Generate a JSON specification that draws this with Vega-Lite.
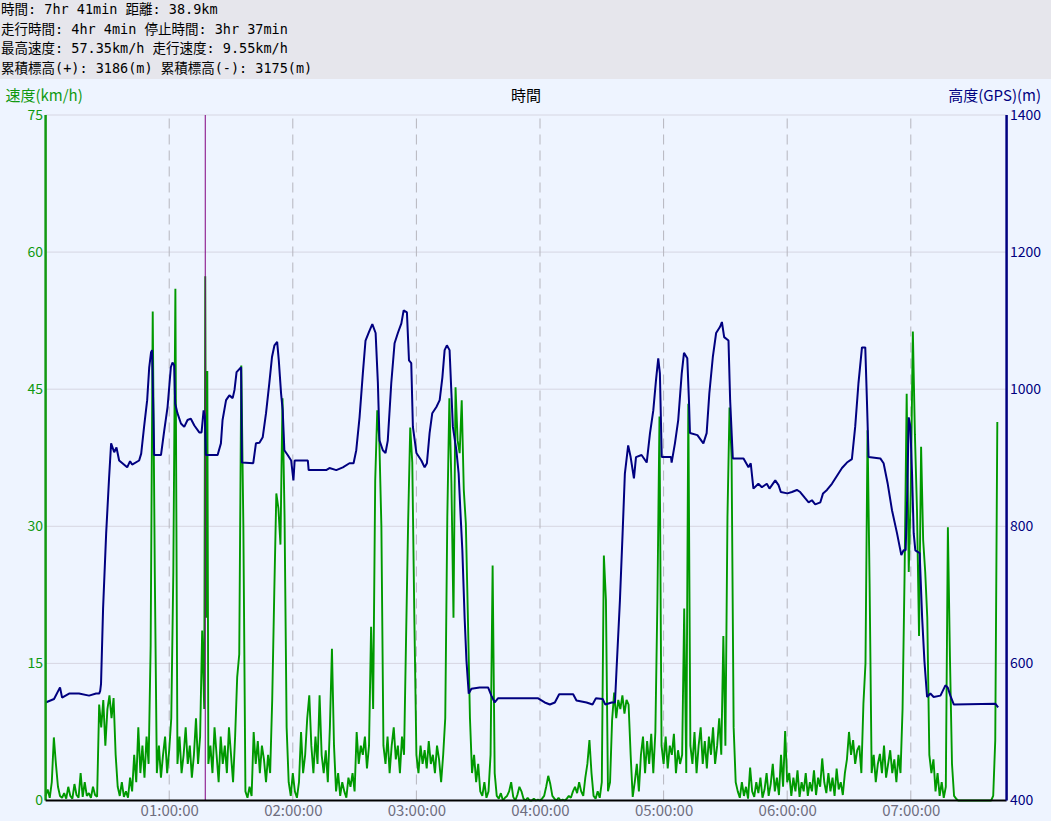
{
"$schema": "https://vega.github.io/schema/vega-lite/v6.json",
"background": "#eef4ff",
"padding": 0,
"spacing": 0,
"config": {"view": {"stroke": null}, "font": "Noto Sans CJK JP"},
"datasets": {
"header": [
{"line": 1, "text": "時間: 7hr 41min 距離: 38.9km"},
{"line": 2, "text": "走行時間: 4hr 4min 停止時間: 3hr 37min"},
{"line": 3, "text": "最高速度: 57.35km/h 走行速度: 9.55km/h"},
{"line": 4, "text": "累積標高(+): 3186(m) 累積標高(-): 3175(m)"}
],
"hgrid": [{"g": 15}, {"g": 30}, {"g": 45}, {"g": 60}, {"g": 75}],
"vgrid": [{"h": 60}, {"h": 120}, {"h": 180}, {"h": 240}, {"h": 300}, {"h": 360}, {"h": 420}],
"speed": [
{"t":0,"s":0.5},{"t":1,"s":1.2},{"t":2,"s":0.3},{"t":3,"s":2},{"t":4,"s":6.9},{"t":5,"s":4},{"t":6,"s":1.5},{"t":7,"s":0.5},{"t":8,"s":0.3},{"t":9,"s":0.8},
{"t":10,"s":0.2},{"t":11,"s":1.5},{"t":12,"s":0.5},{"t":13,"s":0.2},{"t":14,"s":1.8},{"t":15,"s":0.6},{"t":16,"s":0.3},{"t":17,"s":3},{"t":18,"s":0.4},{"t":19,"s":2},
{"t":20,"s":0.5},{"t":21,"s":0.8},{"t":22,"s":0.3},{"t":23,"s":1.5},{"t":24,"s":0.6},{"t":25,"s":0.4},{"t":26,"s":10.5},{"t":27,"s":8},{"t":28,"s":11},{"t":29,"s":6},
{"t":30,"s":10},{"t":31,"s":11.5},{"t":32,"s":9},{"t":33,"s":11.2},{"t":34,"s":5},{"t":35,"s":1.5},{"t":36,"s":0.5},{"t":37,"s":2},{"t":38,"s":0.4},{"t":39,"s":1},
{"t":40,"s":0.3},{"t":41,"s":2.5},{"t":42,"s":1},{"t":43,"s":5},{"t":44,"s":2},{"t":45,"s":8},{"t":46,"s":3},{"t":47,"s":6},{"t":48,"s":2.5},{"t":49,"s":7},
{"t":50,"s":4},{"t":51,"s":17},{"t":52,"s":53.5},{"t":53,"s":25},{"t":54,"s":3},{"t":55,"s":6},{"t":56,"s":2.5},{"t":57,"s":5},{"t":58,"s":7},{"t":59,"s":3},
{"t":60,"s":5.5},{"t":61,"s":9},{"t":62,"s":25},{"t":63,"s":56},{"t":64,"s":4},{"t":65,"s":7},{"t":66,"s":3},{"t":67,"s":5},{"t":68,"s":8},{"t":69,"s":4},
{"t":70,"s":6},{"t":71,"s":2.5},{"t":72,"s":5},{"t":73,"s":9},{"t":74,"s":4},{"t":75,"s":7},{"t":76,"s":18.6},{"t":77,"s":10},{"t":77.5,"s":57.35},{"t":78,"s":20},{"t":78.5,"s":47},{"t":79,"s":4},
{"t":80,"s":6},{"t":81,"s":3},{"t":82,"s":8},{"t":83,"s":5},{"t":84,"s":2},{"t":85,"s":7},{"t":86,"s":4},{"t":87,"s":6},{"t":88,"s":3},{"t":89,"s":8},
{"t":90,"s":5},{"t":91,"s":2},{"t":92,"s":7},{"t":93,"s":13.5},{"t":94,"s":16},{"t":95,"s":47.6},{"t":96,"s":30},{"t":97,"s":1},{"t":98,"s":0.3},{"t":99,"s":1.5},
{"t":100,"s":0.5},{"t":101,"s":7.5},{"t":102,"s":4},{"t":103,"s":6.5},{"t":104,"s":3},{"t":105,"s":6},{"t":106,"s":4.5},{"t":107,"s":2},{"t":108,"s":5},{"t":109,"s":3},
{"t":110,"s":11},{"t":111,"s":22.7},{"t":112,"s":33.6},{"t":113,"s":32},{"t":114,"s":28},{"t":115,"s":44},{"t":116,"s":31},{"t":117,"s":8},{"t":118,"s":2},{"t":119,"s":0.5},
{"t":120,"s":3},{"t":121,"s":1},{"t":122,"s":0.3},{"t":123,"s":2},{"t":124,"s":7.5},{"t":125,"s":3},{"t":126,"s":5},{"t":127,"s":9},{"t":128,"s":11.5},{"t":129,"s":6},
{"t":130,"s":3},{"t":131,"s":7},{"t":132,"s":4},{"t":133,"s":11.5},{"t":134,"s":5},{"t":135,"s":3},{"t":136,"s":5.5},{"t":137,"s":2},{"t":138,"s":8},{"t":139,"s":16.6},
{"t":140,"s":6},{"t":141,"s":1},{"t":142,"s":3},{"t":143,"s":0.5},{"t":144,"s":2},{"t":145,"s":1},{"t":146,"s":0.3},{"t":147,"s":2.5},{"t":148,"s":1.5},{"t":149,"s":3},
{"t":150,"s":1},{"t":151,"s":7.5},{"t":152,"s":4},{"t":153,"s":6},{"t":154,"s":5},{"t":155,"s":7},{"t":156,"s":3.5},{"t":157,"s":6},{"t":158,"s":19},{"t":159,"s":10},
{"t":160,"s":35},{"t":161,"s":42.7},{"t":162,"s":39.4},{"t":163,"s":30},{"t":164,"s":6},{"t":165,"s":4},{"t":166,"s":7},{"t":167,"s":3},{"t":168,"s":6},{"t":169,"s":8},
{"t":170,"s":4.5},{"t":171,"s":6},{"t":172,"s":3},{"t":173,"s":7},{"t":174,"s":5},{"t":175,"s":18},{"t":176,"s":30.6},{"t":177,"s":40.8},{"t":178,"s":37},{"t":179,"s":20},
{"t":180,"s":5},{"t":181,"s":3},{"t":182,"s":6},{"t":183,"s":4},{"t":184,"s":5.5},{"t":185,"s":3.5},{"t":186,"s":6.5},{"t":187,"s":4},{"t":188,"s":5},{"t":189,"s":3},
{"t":190,"s":6},{"t":191,"s":4.5},{"t":192,"s":2},{"t":193,"s":5},{"t":194,"s":9},{"t":195,"s":31},{"t":196,"s":44},{"t":197,"s":34.7},{"t":198,"s":20},{"t":199,"s":45.2},
{"t":200,"s":39.4},{"t":201,"s":38},{"t":202,"s":43.8},{"t":203,"s":34},{"t":204,"s":30.3},{"t":205,"s":20},{"t":206,"s":9},{"t":207,"s":3},{"t":208,"s":5},{"t":209,"s":2},
{"t":210,"s":4},{"t":211,"s":1},{"t":212,"s":0.5},{"t":213,"s":2},{"t":214,"s":0.3},{"t":215,"s":1},{"t":216,"s":5},{"t":217,"s":25.7},{"t":218,"s":3},{"t":219,"s":0.5},
{"t":220,"s":0.2},{"t":221,"s":0.8},{"t":222,"s":0},{"t":223,"s":0.3},{"t":224,"s":0.5},{"t":225,"s":1},{"t":226,"s":2},{"t":227,"s":0.4},{"t":228,"s":0},{"t":229,"s":0.6},
{"t":230,"s":1.5},{"t":231,"s":1},{"t":232,"s":0.2},{"t":233,"s":0},{"t":234,"s":0.3},{"t":235,"s":0},{"t":236,"s":0},{"t":237,"s":0.2},{"t":238,"s":0},{"t":239,"s":0.1},
{"t":240,"s":0},{"t":241,"s":0.2},{"t":242,"s":0.5},{"t":243,"s":1.5},{"t":244,"s":2.7},{"t":245,"s":1.8},{"t":246,"s":0.5},{"t":247,"s":0.2},{"t":248,"s":0},{"t":249,"s":0.3},
{"t":250,"s":0},{"t":251,"s":0.1},{"t":252,"s":0},{"t":253,"s":0.2},{"t":254,"s":0.5},{"t":255,"s":0.3},{"t":256,"s":1},{"t":257,"s":1.5},{"t":258,"s":0.8},{"t":259,"s":2},
{"t":260,"s":1},{"t":261,"s":0.5},{"t":262,"s":2.5},{"t":263,"s":4},{"t":264,"s":6.6},{"t":265,"s":3},{"t":266,"s":0.5},{"t":267,"s":0.2},{"t":268,"s":1},{"t":269,"s":0.3},
{"t":270,"s":2},{"t":271,"s":26.8},{"t":272,"s":22},{"t":273,"s":1},{"t":274,"s":2},{"t":275,"s":8.8},{"t":276,"s":11.8},{"t":277,"s":9},{"t":278,"s":11},{"t":279,"s":10},
{"t":280,"s":11.5},{"t":281,"s":9.5},{"t":282,"s":11},{"t":283,"s":10.5},{"t":284,"s":5},{"t":285,"s":0.4},{"t":286,"s":2},{"t":287,"s":4},{"t":288,"s":1},{"t":289,"s":5},
{"t":290,"s":7},{"t":291,"s":3},{"t":292,"s":6.5},{"t":293,"s":4},{"t":294,"s":7.3},{"t":295,"s":3},{"t":296,"s":7.5},{"t":297,"s":22},{"t":298,"s":42},{"t":299,"s":6},
{"t":300,"s":4},{"t":301,"s":7},{"t":302,"s":3.5},{"t":303,"s":6},{"t":304,"s":5},{"t":305,"s":7.3},{"t":306,"s":3},{"t":307,"s":5.5},{"t":308,"s":4},{"t":309,"s":5},
{"t":310,"s":21},{"t":311,"s":3},{"t":312,"s":43.4},{"t":313,"s":6},{"t":314,"s":4},{"t":315,"s":7.5},{"t":316,"s":3},{"t":317,"s":6},{"t":318,"s":8},{"t":319,"s":4},
{"t":320,"s":6.5},{"t":321,"s":3.5},{"t":322,"s":7},{"t":323,"s":5},{"t":324,"s":8},{"t":325,"s":4},{"t":326,"s":6},{"t":327,"s":9},{"t":328,"s":5},{"t":329,"s":18},
{"t":330,"s":6},{"t":331,"s":31},{"t":332,"s":43},{"t":333,"s":37.6},{"t":334,"s":8},{"t":335,"s":2},{"t":336,"s":1},{"t":337,"s":0.3},{"t":338,"s":2},{"t":339,"s":0.5},
{"t":340,"s":1.5},{"t":341,"s":0.2},{"t":342,"s":3.6},{"t":343,"s":1},{"t":344,"s":0.4},{"t":345,"s":2},{"t":346,"s":0.8},{"t":347,"s":2.5},{"t":348,"s":0.3},{"t":349,"s":1.2},
{"t":350,"s":3},{"t":351,"s":0.5},{"t":352,"s":1.8},{"t":353,"s":4},{"t":354,"s":1},{"t":355,"s":2.5},{"t":356,"s":0.6},{"t":357,"s":5},{"t":358,"s":1.5},{"t":359,"s":7.6},
{"t":360,"s":2},{"t":361,"s":3},{"t":362,"s":0.5},{"t":363,"s":2.5},{"t":364,"s":1},{"t":365,"s":3.3},{"t":366,"s":0.4},{"t":367,"s":2},{"t":368,"s":1},{"t":369,"s":3},
{"t":370,"s":0.5},{"t":371,"s":2},{"t":372,"s":1},{"t":373,"s":3.3},{"t":374,"s":0.6},{"t":375,"s":2.5},{"t":376,"s":1.5},{"t":377,"s":4.6},{"t":378,"s":2},{"t":379,"s":0.8},
{"t":380,"s":3},{"t":381,"s":1},{"t":382,"s":2.5},{"t":383,"s":0.5},{"t":384,"s":3.5},{"t":385,"s":1.2},{"t":386,"s":2},{"t":387,"s":0.6},{"t":388,"s":3},{"t":389,"s":4.5},
{"t":390,"s":7.5},{"t":391,"s":5},{"t":392,"s":6.6},{"t":393,"s":4},{"t":394,"s":5.5},{"t":395,"s":6},{"t":396,"s":3},{"t":397,"s":10.6},{"t":398,"s":15},{"t":399,"s":40.5},
{"t":400,"s":23.7},{"t":401,"s":3},{"t":402,"s":5},{"t":403,"s":2},{"t":404,"s":4},{"t":405,"s":5.1},{"t":406,"s":3},{"t":407,"s":6},{"t":408,"s":2.5},{"t":409,"s":4},
{"t":410,"s":5.5},{"t":411,"s":3},{"t":412,"s":4.5},{"t":413,"s":2},{"t":414,"s":5},{"t":415,"s":3},{"t":416,"s":10},{"t":417,"s":25},{"t":418,"s":44.5},{"t":419,"s":25},
{"t":420,"s":34},{"t":421,"s":51.3},{"t":422,"s":40},{"t":423,"s":31.8},{"t":424,"s":18},{"t":425,"s":38.7},{"t":426,"s":28.5},{"t":427,"s":25},{"t":428,"s":20},{"t":429,"s":5},
{"t":430,"s":3},{"t":431,"s":4.5},{"t":432,"s":1},{"t":433,"s":3},{"t":434,"s":0.5},{"t":435,"s":2},{"t":436,"s":0.3},{"t":437,"s":1.5},{"t":438,"s":29.9},{"t":439,"s":15.7},
{"t":440,"s":4},{"t":441,"s":0.5},{"t":442,"s":0.2},{"t":443,"s":0},{"t":445,"s":0},{"t":450,"s":0},{"t":455,"s":0},{"t":459,"s":0},
{"t":460,"s":0.5},{"t":461,"s":6.6},{"t":462,"s":41.4}
],
"alt": [
{"t":0,"a":543},{"t":4.1,"a":548},{"t":7,"a":565},{"t":8,"a":550},{"t":11.4,"a":556},{"t":16.2,"a":556},{"t":21.1,"a":553},{"t":24.5,"a":556},{"t":26,"a":556},{"t":26.5,"a":560},
{"t":26.9,"a":570},{"t":27.9,"a":680},{"t":29.4,"a":790},{"t":30.8,"a":870},{"t":31.8,"a":921},{"t":33.3,"a":908},{"t":34.4,"a":915},{"t":35.7,"a":896},{"t":39.6,"a":886},{"t":41,"a":895},
{"t":42,"a":890},{"t":45.4,"a":896},{"t":46.4,"a":906},{"t":47.8,"a":945},{"t":49.3,"a":984},{"t":50.3,"a":1032},{"t":51.2,"a":1054},{"t":51.7,"a":1057},{"t":52.7,"a":904},{"t":56,"a":904},
{"t":57.6,"a":940},{"t":59.2,"a":974},{"t":60.8,"a":1032},{"t":61.6,"a":1039},{"t":62.4,"a":1035},{"t":62.9,"a":979},{"t":64,"a":965},{"t":65.7,"a":950},{"t":67.3,"a":945},{"t":68.9,"a":955},
{"t":70.5,"a":957},{"t":72.2,"a":947},{"t":74.6,"a":937},{"t":75.7,"a":937},{"t":76.7,"a":969},{"t":77.3,"a":960},{"t":77.8,"a":904},{"t":83.5,"a":904},{"t":85.1,"a":921},{"t":85.9,"a":955},
{"t":87.6,"a":984},{"t":89.2,"a":991},{"t":90.8,"a":987},{"t":91.7,"a":999},{"t":92.7,"a":1025},{"t":94.9,"a":1032},{"t":95.3,"a":893},{"t":100.8,"a":892},{"t":102.1,"a":921},{"t":103.8,"a":922},
{"t":105.4,"a":930},{"t":107,"a":965},{"t":108.6,"a":1009},{"t":109.9,"a":1047},{"t":111.1,"a":1064},{"t":112.4,"a":1069},{"t":113.2,"a":1042},{"t":114.3,"a":994},{"t":115.1,"a":969},{"t":115.9,"a":911},
{"t":117.5,"a":904},{"t":119.2,"a":896},{"t":120.3,"a":867},{"t":120.9,"a":896},{"t":124,"a":896},{"t":127.3,"a":896},{"t":127.7,"a":882},{"t":136.2,"a":882},{"t":137.8,"a":885},{"t":141.1,"a":882},
{"t":144.3,"a":886},{"t":147.5,"a":892},{"t":149.5,"a":892},{"t":150.8,"a":911},{"t":152.4,"a":959},{"t":154,"a":1023},{"t":155.3,"a":1071},{"t":156.9,"a":1083},{"t":158.6,"a":1095},{"t":160.2,"a":1082},
{"t":161.3,"a":1009},{"t":162.1,"a":925},{"t":163.7,"a":911},{"t":165,"a":907},{"t":166.1,"a":925},{"t":167.8,"a":1009},{"t":169.4,"a":1067},{"t":171,"a":1082},{"t":172.7,"a":1096},{"t":173.8,"a":1115},
{"t":175.4,"a":1112},{"t":176.4,"a":1042},{"t":177.5,"a":1038},{"t":178.3,"a":945},{"t":180,"a":907},{"t":182.4,"a":896},{"t":183.5,"a":889},{"t":184,"a":886},{"t":185.1,"a":892},{"t":186.4,"a":936},
{"t":187.7,"a":965},{"t":189.7,"a":974},{"t":191.3,"a":984},{"t":192.6,"a":1017},{"t":193.7,"a":1057},{"t":194.8,"a":1064},{"t":196.1,"a":1057},{"t":197,"a":994},{"t":197.7,"a":945},{"t":199.4,"a":911},
{"t":200.5,"a":877},{"t":201.5,"a":813},{"t":202.3,"a":765},{"t":203.4,"a":667},{"t":204.3,"a":604},{"t":205.4,"a":556},{"t":206.7,"a":563},{"t":210.7,"a":565},{"t":214.8,"a":565},{"t":216.4,"a":553},
{"t":218,"a":543},{"t":219.6,"a":549},{"t":239.1,"a":549},{"t":242.3,"a":543},{"t":244.8,"a":540},{"t":247.2,"a":543},{"t":249.3,"a":555},{"t":256.1,"a":555},{"t":257.7,"a":546},{"t":262.6,"a":543},
{"t":265.5,"a":540},{"t":267.1,"a":549},{"t":270.4,"a":548},{"t":271.7,"a":540},{"t":274.8,"a":543},{"t":276.4,"a":543},{"t":277.2,"a":594},{"t":278.8,"a":692},{"t":280.1,"a":790},{"t":281.2,"a":877},
{"t":282.8,"a":918},{"t":284,"a":901},{"t":285.6,"a":870},{"t":286.6,"a":901},{"t":289.3,"a":904},{"t":291.8,"a":893},{"t":293.4,"a":936},{"t":295,"a":969},{"t":296.3,"a":1013},{"t":297.4,"a":1045},
{"t":298.2,"a":1023},{"t":299.1,"a":901},{"t":303.6,"a":901},{"t":303.9,"a":893},{"t":305.5,"a":921},{"t":307.1,"a":955},{"t":308.8,"a":1023},{"t":309.9,"a":1053},{"t":311.5,"a":1045},{"t":312.3,"a":984},
{"t":312.8,"a":936},{"t":316.4,"a":933},{"t":319.3,"a":921},{"t":320.9,"a":936},{"t":322.2,"a":994},{"t":323.9,"a":1047},{"t":325.5,"a":1082},{"t":327.4,"a":1091},{"t":328.3,"a":1098},{"t":329.4,"a":1076},
{"t":331.5,"a":1071},{"t":332.3,"a":984},{"t":333.6,"a":899},{"t":338.8,"a":899},{"t":341.2,"a":886},{"t":342.3,"a":892},{"t":343.6,"a":855},{"t":346,"a":862},{"t":347.7,"a":857},{"t":350.1,"a":862},
{"t":351.4,"a":855},{"t":354.2,"a":867},{"t":355.8,"a":860},{"t":356.9,"a":850},{"t":360.1,"a":848},{"t":362.3,"a":850},{"t":364.7,"a":853},{"t":366.3,"a":850},{"t":368.7,"a":841},{"t":370.4,"a":835},
{"t":372,"a":838},{"t":373.6,"a":832},{"t":376.1,"a":835},{"t":377.4,"a":848},{"t":379.3,"a":853},{"t":381.7,"a":862},{"t":383.8,"a":872},{"t":386.6,"a":885},{"t":389,"a":893},{"t":391.4,"a":898},
{"t":393,"a":945},{"t":394.6,"a":1009},{"t":396.3,"a":1061},{"t":397.9,"a":1061},{"t":398.7,"a":984},{"t":399.5,"a":901},{"t":405.2,"a":899},{"t":406.8,"a":892},{"t":408.8,"a":862},{"t":410.9,"a":823},
{"t":413.3,"a":790},{"t":415.4,"a":758},{"t":416.5,"a":765},{"t":417.5,"a":765},{"t":418.2,"a":838},{"t":419,"a":959},{"t":419.8,"a":945},{"t":420.6,"a":877},{"t":421.4,"a":790},{"t":422.2,"a":765},
{"t":424.3,"a":761},{"t":425.5,"a":667},{"t":426.6,"a":604},{"t":427.9,"a":551},{"t":429.5,"a":556},{"t":431.1,"a":551},{"t":434.4,"a":553},{"t":436.8,"a":568},{"t":437.9,"a":565},{"t":439.2,"a":553},
{"t":440.9,"a":540},{"t":461.1,"a":541},{"t":462.4,"a":536}
]
},
"vconcat": [
{
"width": 1051, "height": 79,
"view": {"fill": "#e6e6ec", "stroke": null},
"data": {"name": "header"},
"mark": {"type": "text", "align": "left", "baseline": "middle", "fontSize": 13.5, "font": "DejaVu Sans Mono, Noto Sans CJK JP", "color": "#000000", "dx": 1},
"encoding": {
"x": {"datum": 0, "type": "quantitative", "scale": {"domain": [0, 1]}, "axis": null},
"y": {"field": "line", "type": "ordinal", "scale": {"type": "point", "padding": 0.5}, "axis": null},
"text": {"field": "text"}
}
},
{
"width": 1051, "height": 742,
"view": {"fill": "#eef4ff", "stroke": null},
"resolve": {"scale": {"y": "independent"}, "axis": {"y": "independent"}},
"layer": [
{
"data": {"name": "hgrid"},
"mark": {"type": "rule", "color": "#d6d6e2", "strokeWidth": 1},
"encoding": {
"x": {"datum": 0, "type": "quantitative", "scale": {"domain": [-22.14, 488.06], "nice": false, "zero": false},
"axis": {"orient": "bottom", "offset": -20.5, "values": [60, 120, 180, 240, 300, 360, 420], "labelExpr": "'0' + (datum.value/60) + ':00:00'", "grid": false, "ticks": false, "domain": false, "labelColor": "#6e6e80", "labelFont": "Noto Sans CJK JP", "labelFontSize": 15, "labelPadding": 3, "labelFlush": false, "labelOverlap": false,
"title": "時間", "titleColor": "#000000", "titleFont": "Noto Sans CJK JP", "titleFontSize": 15, "titleFontWeight": "normal", "titleX": 525.5, "titleY": -705.5, "titleAlign": "center", "titleBaseline": "middle", "titleAngle": 0}},
"x2": {"datum": 466.5},
"y": {"field": "g", "type": "quantitative", "scale": {"domain": [-2.243, 78.939], "nice": false, "zero": false}, "axis": null}
}
},
{
"data": {"name": "vgrid"},
"mark": {"type": "rule", "color": "#b6b6be", "strokeWidth": 1, "strokeDash": [10, 6]},
"encoding": {
"x": {"field": "h", "type": "quantitative", "scale": {"domain": [-22.14, 488.06], "nice": false, "zero": false}},
"y": {"datum": 0, "type": "quantitative", "scale": {"domain": [-2.243, 78.939], "nice": false, "zero": false}, "axis": null},
"y2": {"datum": 75}
}
},
{
"data": {"name": "speed"},
"mark": {"type": "line", "color": "#009900", "strokeWidth": 1.9, "strokeJoin": "bevel"},
"encoding": {
"x": {"field": "t", "type": "quantitative", "scale": {"domain": [-22.14, 488.06], "nice": false, "zero": false}},
"y": {"field": "s", "type": "quantitative", "scale": {"domain": [-2.243, 78.939], "nice": false, "zero": false},
"axis": {"orient": "left", "offset": -45.6, "values": [0, 15, 30, 45, 60, 75], "grid": false, "ticks": false, "domain": false, "labelColor": "#109910", "labelFont": "Noto Sans CJK JP", "labelFontSize": 14, "labelPadding": 3, "labelFlush": false, "labelOverlap": false,
"title": "速度(km/h)", "titleColor": "#109910", "titleFont": "Noto Sans CJK JP", "titleFontSize": 15, "titleFontWeight": "normal", "titleAngle": 0, "titleAlign": "left", "titleBaseline": "middle", "titleX": -40.6, "titleY": 16}}
}
},
{
"data": {"name": "speed"},
"transform": [{"filter": "datum.s >= 57.35"}],
"mark": {"type": "rule", "color": "#800080", "strokeWidth": 1},
"encoding": {
"x": {"field": "t", "type": "quantitative", "scale": {"domain": [-22.14, 488.06], "nice": false, "zero": false}},
"y": {"datum": 0, "type": "quantitative", "scale": {"domain": [-2.243, 78.939], "nice": false, "zero": false}, "axis": null},
"y2": {"datum": 75}
}
},
{
"data": {"name": "alt"},
"mark": {"type": "line", "color": "#000080", "strokeWidth": 2, "strokeJoin": "bevel"},
"encoding": {
"x": {"field": "t", "type": "quantitative", "scale": {"domain": [-22.14, 488.06], "nice": false, "zero": false}},
"y": {"field": "a", "type": "quantitative", "scale": {"domain": [370.09, 1452.52], "nice": false, "zero": false},
"axis": {"orient": "right", "offset": -44.5, "values": [400, 600, 800, 1000, 1200, 1400], "format": "d", "grid": false, "ticks": false, "domain": false, "labelColor": "#000080", "labelFont": "Noto Sans CJK JP", "labelFontSize": 14, "labelPadding": 3, "labelFlush": false, "labelOverlap": false,
"title": "高度(GPS)(m)", "titleColor": "#000080", "titleFont": "Noto Sans CJK JP", "titleFontSize": 15, "titleFontWeight": "normal", "titleAngle": 0, "titleAlign": "right", "titleBaseline": "middle", "titleX": 34, "titleY": 16}}
}
},
{
"data": {"values": [{}]},
"mark": {"type": "rule", "color": "#119911", "strokeWidth": 2.5},
"encoding": {
"x": {"datum": 0, "type": "quantitative", "scale": {"domain": [-22.14, 488.06], "nice": false, "zero": false}},
"y": {"datum": 0, "type": "quantitative", "scale": {"domain": [-2.243, 78.939], "nice": false, "zero": false}, "axis": null},
"y2": {"datum": 75}
}
},
{
"data": {"values": [{}]},
"mark": {"type": "rule", "color": "#000000", "strokeWidth": 2},
"encoding": {
"x": {"datum": 0, "type": "quantitative", "scale": {"domain": [-22.14, 488.06], "nice": false, "zero": false}},
"x2": {"datum": 466.5},
"y": {"datum": 0, "type": "quantitative", "scale": {"domain": [-2.243, 78.939], "nice": false, "zero": false}, "axis": null}
}
},
{
"data": {"values": [{}]},
"mark": {"type": "rule", "color": "#000080", "strokeWidth": 2.5},
"encoding": {
"x": {"datum": 466.5, "type": "quantitative", "scale": {"domain": [-22.14, 488.06], "nice": false, "zero": false}},
"y": {"datum": 400, "type": "quantitative", "scale": {"domain": [370.09, 1452.52], "nice": false, "zero": false}, "axis": null},
"y2": {"datum": 1400}
}
}
]
}
]
}
